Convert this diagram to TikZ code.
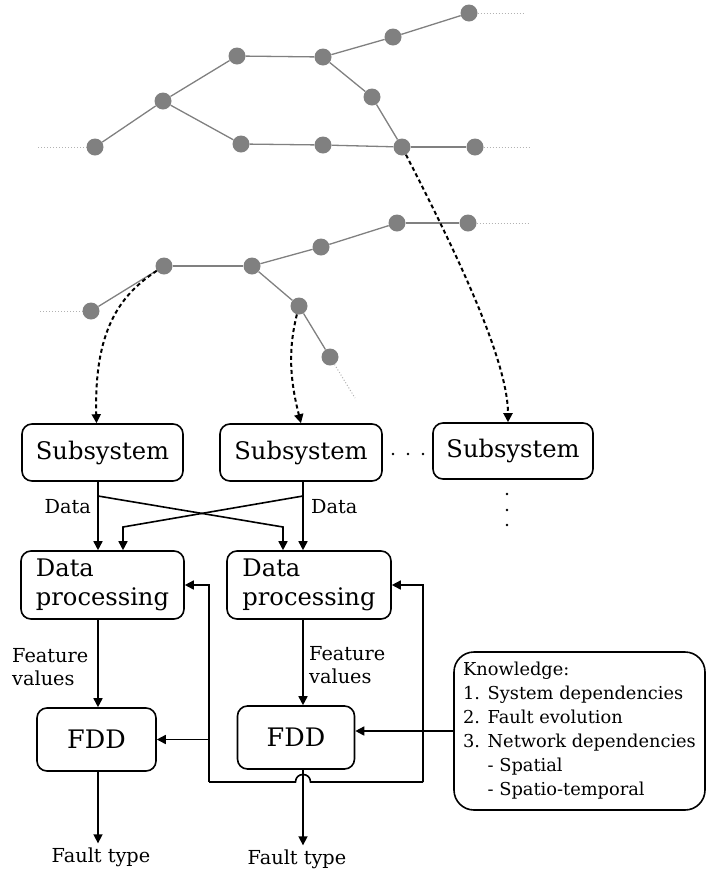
\documentclass[tikz,border=0pt]{standalone}
\usepackage{fontspec}
\setmainfont{DejaVu Serif}
\usetikzlibrary{arrows.meta}
\pgfdeclarelayer{bg}
\pgfsetlayers{bg,main}
\tikzset{
  dot/.style={circle, fill=gray, inner sep=0pt, minimum size=17pt},
  net/.style={draw=gray, line width=1.3pt},
  tail/.style={draw=gray!60, dotted, line width=1pt},
  box/.style={draw, line width=1.6pt, rounded corners=10pt, inner sep=0pt},
  lbl/.style={font=\fontsize{19.3}{23}\selectfont, inner sep=0pt},
  bigtxt/.style={font=\fontsize{24.2}{29}\selectfont},
  arr/.style={line width=1.6pt, -{Triangle[length=9pt,width=9pt]}},
  link/.style={line width=2pt, dash pattern=on 4pt off 3pt, -{Triangle[length=9pt,width=9pt]}},
}

\begin{document}
\begin{tikzpicture}[x=1pt, y=-1pt]
        \useasboundingbox (0,0) rectangle (722,871);
        % upper network
        \node (v0) [dot] at (95,147) {};
        \node (v1) [dot] at (163,101) {};
        \node (v2) [dot] at (237,56) {};
        \node (v3) [dot] at (323,57) {};
        \node (v4) [dot] at (393,37) {};
        \node (v5) [dot] at (469,13) {};
        \node (v6) [dot] at (372,97) {};
        \node (v7) [dot] at (241,144) {};
        \node (v8) [dot] at (323,145) {};
        \node (v9) [dot] at (402,147) {};
        \node (v10) [dot] at (475,147) {};
        \coordinate (e0) at (38,147);
        \coordinate (e1) at (525,13);
        \coordinate (e2) at (530,147);
        % lower network
        \node (w0) [dot] at (91,311) {};
        \node (w1) [dot] at (164,266) {};
        \node (w2) [dot] at (252,266) {};
        \node (w3) [dot] at (321,247) {};
        \node (w4) [dot] at (397,223) {};
        \node (w5) [dot] at (468,223) {};
        \node (w6) [dot] at (299,306) {};
        \node (w7) [dot] at (330,357) {};
        \coordinate (e3) at (40,311);
        \coordinate (e4) at (528,223);
        \coordinate (e5) at (355,398);
        \begin{pgfonlayer}{bg}
                \draw (v0) edge [net] (v1);
                \draw (v1) edge [net] (v2);
                \draw (v2) edge [net] (v3);
                \draw (v3) edge [net] (v4);
                \draw (v4) edge [net] (v5);
                \draw (v3) edge [net] (v6);
                \draw (v6) edge [net] (v9);
                \draw (v1) edge [net] (v7);
                \draw (v7) edge [net] (v8);
                \draw (v8) edge [net] (v9);
                \draw (v9) edge [net] (v10);
                \draw (e0) edge [tail] (v0);
                \draw (v5) edge [tail] (e1);
                \draw (v10) edge [tail] (e2);
                \draw (w0) edge [net] (w1);
                \draw (w1) edge [net] (w2);
                \draw (w2) edge [net] (w3);
                \draw (w3) edge [net] (w4);
                \draw (w4) edge [net] (w5);
                \draw (w2) edge [net] (w6);
                \draw (w6) edge [net] (w7);
                \draw (e3) edge [tail] (w0);
                \draw (w5) edge [tail] (e4);
                \draw (w7) edge [tail] (e5);
        \end{pgfonlayer}

        % blocks
        \node (s1) [box, bigtxt, minimum width=161pt, minimum height=57pt] at (102.5,452.5) {Subsystem};
        \node (s2) [box, bigtxt, minimum width=162pt, minimum height=57pt] at (301,452.5) {Subsystem};
        \node (s3) [box, bigtxt, minimum width=160pt, minimum height=56pt] at (513,451) {Subsystem};
        \node (p1) [box, bigtxt, align=left, minimum width=163pt, minimum height=68pt] at (102.5,585) {Data\\processing};
        \node (p2) [box, bigtxt, align=left, minimum width=164pt, minimum height=68pt] at (309,585) {Data\\processing};
        \node (f1) [box, font=\fontsize{25.5}{30}\selectfont, minimum width=119pt, minimum height=63pt] at (96.5,739.5) {FDD};
        \node (f2) [box, font=\fontsize{25.5}{30}\selectfont, minimum width=117pt, minimum height=63pt] at (296,737.5) {FDD};
        \node (k) [box, rounded corners=20pt, align=left, font=\fontsize{17.8}{24}\selectfont,
                minimum width=251pt, minimum height=158pt] at (579.5,731)
                {Knowledge:\\1. System dependencies\\2. Fault evolution\\3. Network dependencies\\\phantom{3. }- Spatial\\\phantom{3. }- Spatio-temporal};
        \node (t1) [lbl, inner ysep=4pt] at (101,857) {Fault type};
        \node (t2) [lbl, inner ysep=4pt] at (297,859) {Fault type};
        \node (d1) [lbl, anchor=east] at (91,507) {Data};
        \node (d2) [lbl, anchor=west] at (311,507) {Data};
        \node (g1) [lbl, align=left, anchor=west] at (12,667) {Feature\\values};
        \node (g2) [lbl, align=left, anchor=west] at (309,665) {Feature\\values};

        % dots for more subsystems
        \foreach \x in {393,408,423} \fill (\x,454) circle (1.3);
        \foreach \y in {494,510,525} \fill (507,\y) circle (1.3);

        % subsystem links
        \draw[link] (w1) .. controls (120,295) and (94,330) .. ([xshift=-6pt]s1.north);
        \draw[link] (w6) .. controls (288,350) and (290,380) .. (s2.north);
        \draw[link] (v9) .. controls (455,250) and (508,360) .. ([xshift=-5pt]s3.north);

        % data paths
        \coordinate (c1) at (98,0);
        \coordinate (c2) at (303,0);
        \coordinate (x1) at (98,496);
        \coordinate (x2) at (283,527);
        \coordinate (x3) at (303,496);
        \coordinate (x4) at (123,527);
        \draw[arr] (s1.south -| c1) -- (p1.north -| c1);
        \draw[arr] (s2.south -| c2) -- (p2.north -| c2);
        \draw[arr] (x1) -- (x2) -- (x2 |- p2.north);
        \draw[arr] (x3) -- (x4) -- (x4 |- p1.north);
        \draw[arr] (p1.south -| c1) -- (f1.north -| c1);
        \draw[arr] (p2.south -| c2) -- (f2.north -| c2);
        \draw[arr] (f1.south -| c1) -- (t1.north -| c1);
        \draw[arr] (f2.south -| c2) -- (t2.north -| c2);

        % knowledge and feedback
        \coordinate (r0) at (423,782);
        \coordinate (l0) at (209,782);
        \draw[arr] (k.west) -- (k.west -| f2.east);
        \draw[arr] (r0) -- (r0 |- p2.east) -- (p2.east);
        \draw[line width=1.6pt] (r0) -- (310.5,782) .. controls (310.5,772) and (295.5,772) .. (295.5,782) -- (l0);
        \draw[arr] (l0) -- (l0 |- p1.east) -- (p1.east);
        \draw[arr] (l0 |- f1.east) -- (f1.east);
\end{tikzpicture}
\end{document}
